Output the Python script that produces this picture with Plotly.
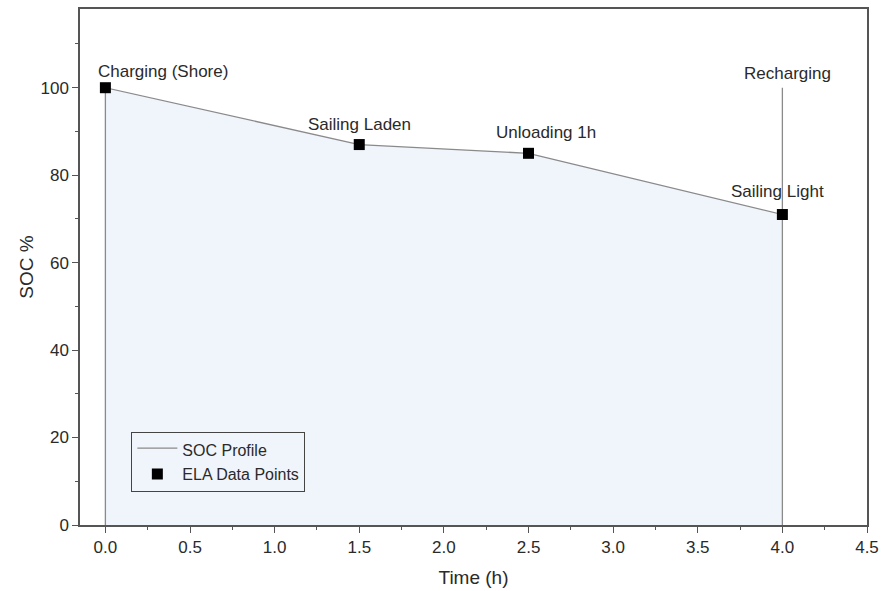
import plotly.graph_objects as go

time_h = [0.0, 1.5, 2.5, 4.0]
soc_pct = [100, 87, 85, 71]
phase_labels = ["Charging (Shore)", "Sailing Laden", "Unloading 1h", "Sailing Light"]
recharge_time = 4.0
recharge_soc = 100
recharge_label = "Recharging"

x_ticks = [0.0, 0.5, 1.0, 1.5, 2.0, 2.5, 3.0, 3.5, 4.0, 4.5]
y_ticks = [0, 20, 40, 60, 80, 100]

FONT = "Liberation Sans, Arial, sans-serif"
AX = "#555555"
TXT = "#2a2a2a"

# profile polygon: start at zero, follow the data, recharge jump, back to zero
px = [time_h[0]] + time_h + [recharge_time, recharge_time]
py = [0] + soc_pct + [recharge_soc, 0]

fig = go.Figure()
fig.add_trace(go.Scatter(
    x=px, y=py, mode="lines", fill="toself",
    fillcolor="rgb(240,244,251)",
    line=dict(color="#8a8a8a", width=1.3),
    name="SOC Profile",
))
fig.add_trace(go.Scatter(
    x=time_h, y=soc_pct, mode="markers",
    marker=dict(symbol="square", size=11, color="black"),
    name="ELA Data Points",
))

anns = []
xanch = ["left", "center", "center", "center"]
xshift = [-9, 0, 17, -5]
yshift = [5, 9, 9, 12]
for t, s, lab, xa, xs, ys in zip(time_h, soc_pct, phase_labels, xanch, xshift, yshift):
    anns.append(dict(x=t, y=s, text=lab, showarrow=False, xanchor=xa,
                     yanchor="bottom", xshift=xs, yshift=ys,
                     font=dict(size=17, color=TXT, family=FONT)))
anns.append(dict(x=recharge_time, y=recharge_soc, text=recharge_label, showarrow=False,
                 xanchor="center", yanchor="bottom", xshift=5, yshift=3,
                 font=dict(size=17, color=TXT, family=FONT)))

axis_common = dict(showline=True, linecolor=AX, linewidth=1.5, mirror=True,
                   ticks="outside", tickcolor=AX, ticklen=6, tickwidth=1.2,
                   showgrid=False, zeroline=False, automargin=False,
                   tickfont=dict(size=17, color=TXT, family=FONT))

fig.update_layout(
    width=882, height=591,
    margin=dict(l=80, r=15, t=9, b=66),
    paper_bgcolor="white", plot_bgcolor="white",
    font=dict(family=FONT, size=17, color=TXT),
    annotations=anns,
    legend=dict(x=0.065, y=0.18, xanchor="left", yanchor="top",
                bgcolor="rgba(255,255,255,0)", bordercolor="#444", borderwidth=1.2,
                font=dict(size=16, family=FONT, color=TXT),
                tracegroupgap=0, itemwidth=40),
    showlegend=True,
)
fig.update_xaxes(range=[-0.15, 4.5], tickvals=x_ticks,
                 ticktext=[f"{v:.1f}" for v in x_ticks],
                 minor=dict(ticks="outside", dtick=0.25, ticklen=3, tickcolor=AX),
                 title=dict(text="Time (h)", font=dict(size=19, family=FONT, color=TXT), standoff=15),
                 **axis_common)
fig.update_yaxes(range=[0, 118], tickvals=y_ticks,
                 minor=dict(ticks="outside", dtick=10, ticklen=3, tickcolor=AX),
                 title=dict(text="SOC %", font=dict(size=19, family=FONT, color=TXT), standoff=2),
                 **axis_common)

fig.write_html("out.html", config={"displayModeBar": False},
               post_script="document.body.style.margin='0';document.body.style.overflow='hidden';")
